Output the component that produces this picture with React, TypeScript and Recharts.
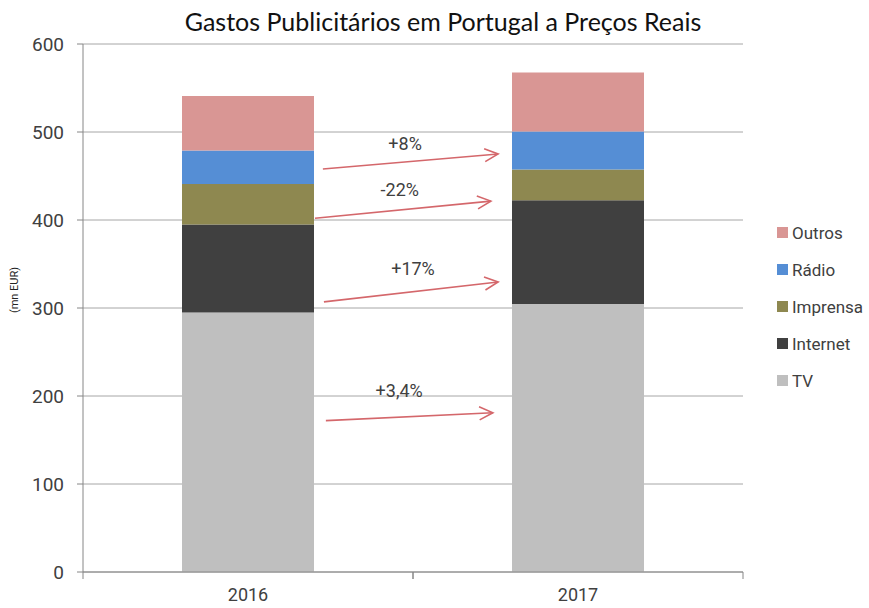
import React from 'react';
import {
  BarChart,
  Bar,
  XAxis,
  YAxis,
  CartesianGrid,
  ReferenceLine,
  ReferenceDot,
} from 'recharts';

const years = ['2016', '2017'];
const yearPos = [0.5, 1.5];
const tv = [295, 304.5];
const internet = [100, 118];
const imprensa = [46, 35];
const radio = [38, 43];
const outros = [62, 67];

const yTicks = [0, 100, 200, 300, 400, 500, 600];

// arrows between the bars: x on a 0..2 scale across the plot, y in mn EUR
const arrowLabels = ['+8%', '-22%', '+17%', '+3,4%'];
const arrowFromX = [0.727, 0.703, 0.73, 0.736];
const arrowFromY = [458, 402, 307, 172];
const arrowToX = [1.258, 1.236, 1.258, 1.242];
const arrowToY = [475, 421.5, 329.5, 181];
const labelX = [0.976, 0.96, 1.0, 0.958];
const labelY = [487, 434, 345, 206];

const series = [
  { key: 'TV', values: tv, color: '#bfbfbf' },
  { key: 'Internet', values: internet, color: '#404040' },
  { key: 'Imprensa', values: imprensa, color: '#8e8850' },
  { key: 'Rádio', values: radio, color: '#558ed5' },
  { key: 'Outros', values: outros, color: '#d99694' },
];

const data = years.map((year, i) => {
  const row: Record<string, string | number> = { year, pos: yearPos[i] };
  series.forEach((s) => {
    row[s.key] = s.values[i];
  });
  return row;
});

const font = 'Roboto, sans-serif';
const arrowColor = '#d4676b';

function Arrow(props: any) {
  const { x1, y1, x2, y2 } = props;
  const ang = Math.atan2(y2 - y1, x2 - x1);
  const len = 15;
  const spread = 0.45;
  const ax = x2 - len * Math.cos(ang - spread);
  const ay = y2 - len * Math.sin(ang - spread);
  const bx = x2 - len * Math.cos(ang + spread);
  const by = y2 - len * Math.sin(ang + spread);
  return (
    <g>
      <line x1={x1} y1={y1} x2={x2} y2={y2} stroke={arrowColor} strokeWidth={1.6} />
      <polyline
        points={`${ax},${ay} ${x2},${y2} ${bx},${by}`}
        fill="none"
        stroke={arrowColor}
        strokeWidth={1.6}
      />
    </g>
  );
}

function YearTick(props: any) {
  const { x, y, payload } = props;
  const off = payload.offset || 0;
  return (
    <g>
      <line x1={x - off} y1={y - 8} x2={x - off} y2={y - 1} stroke="#868686" />
      <line x1={x + off} y1={y - 8} x2={x + off} y2={y - 1} stroke="#868686" />
      <text x={x} y={y + 21} textAnchor="middle" fill="#404040" fontSize={18} fontFamily={font}>
        {payload.value}
      </text>
    </g>
  );
}

function LegendBox() {
  return (
    <div
      style={{
        position: 'absolute',
        left: 777,
        top: 214,
        fontFamily: font,
        fontSize: 17,
        color: '#404040',
      }}
    >
      {[...series].reverse().map((s) => (
        <div key={s.key} style={{ display: 'flex', alignItems: 'center', height: 37 }}>
          <span style={{ width: 11, height: 11, background: s.color, marginRight: 4 }} />
          <span>{s.key}</span>
        </div>
      ))}
    </div>
  );
}

export default function App() {
  return (
    <div style={{ position: 'absolute', left: 0, top: 0, width: 869, height: 608, background: '#fff' }}>
      <div
        style={{
          position: 'absolute',
          left: 0,
          width: 886,
          top: 6,
          textAlign: 'center',
          fontFamily: 'Lato, sans-serif',
          fontSize: 25,
          color: '#111',
          zIndex: 2,
        }}
      >
        Gastos Publicitários em Portugal a Preços Reais
      </div>
      <BarChart
        width={869}
        height={608}
        data={data}
        margin={{ top: 44, right: 126, bottom: 0, left: 0 }}
        barCategoryGap="30%"
      >
        <CartesianGrid vertical={false} stroke="#a6a6a6" />
        <XAxis
          dataKey="year"
          axisLine={{ stroke: '#868686' }}
          tickLine={false}
          tick={<YearTick />}
          height={36}
        />
        <XAxis
          xAxisId="num"
          dataKey="pos"
          type="number"
          domain={[0, 2]}
          allowDataOverflow
          hide
        />
        <YAxis
          width={83}
          domain={[0, 600]}
          ticks={yTicks}
          interval={0}
          axisLine={{ stroke: '#868686' }}
          tickLine={{ stroke: '#868686' }}
          tickSize={6}
          tickMargin={13}
          tick={{ fill: '#404040', fontSize: 19, fontFamily: font }}
          label={{
            value: '(mn EUR)',
            angle: -90,
            position: 'insideLeft',
            offset: 14,
            dy: -18,
            textAnchor: 'middle',
            style: { fontSize: 11, fontFamily: font, fill: '#222', textAnchor: 'middle' },
          }}
        />
        {series.map((s) => (
          <Bar key={s.key} dataKey={s.key} stackId="a" fill={s.color} isAnimationActive={false} />
        ))}
        {arrowLabels.map((lab, i) => (
          <ReferenceLine
            key={'a' + lab}
            xAxisId="num"
            segment={[
              { x: arrowFromX[i], y: arrowFromY[i] },
              { x: arrowToX[i], y: arrowToY[i] },
            ]}
            shape={(p: any) => <Arrow {...p} />}
            ifOverflow="visible"
          />
        ))}
        {arrowLabels.map((lab, i) => (
          <ReferenceDot
            key={'l' + lab}
            xAxisId="num"
            x={labelX[i]}
            y={labelY[i]}
            r={0}
            fill="none"
            stroke="none"
            ifOverflow="visible"
            label={{
              value: lab,
              position: 'center',
              style: { fontSize: 18, fontFamily: font, fill: '#404040' },
            }}
          />
        ))}
      </BarChart>
      <LegendBox />
    </div>
  );
}
